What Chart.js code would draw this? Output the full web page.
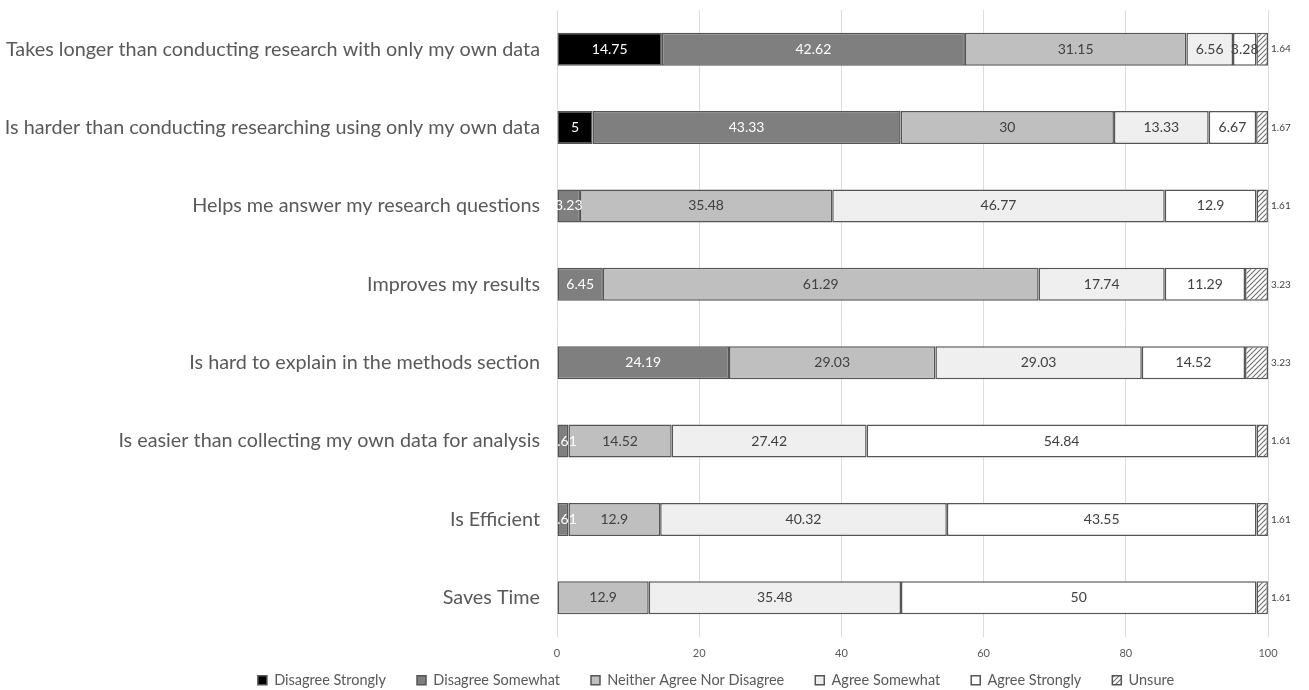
<!DOCTYPE html>
<html><head><meta charset="utf-8">
<script src="https://cdn.jsdelivr.net/npm/chart.js@4.4.1/dist/chart.umd.min.js"></script>
<style>html,body{margin:0;padding:0;background:#fff;}#wrap{width:1309px;height:690px;}</style>
</head><body><div id="wrap"><canvas id="c" width="1309" height="690"></canvas></div>
<script>
const categories = [
  "Takes longer than conducting research with only my own data",
  "Is harder than conducting researching using only my own data",
  "Helps me answer my research questions",
  "Improves my results",
  "Is hard to explain in the methods section",
  "Is easier than collecting my own data for analysis",
  "Is Efficient",
  "Saves Time"
];
const seriesNames = ["Disagree Strongly","Disagree Somewhat","Neither Agree Nor Disagree","Agree Somewhat","Agree Strongly","Unsure"];
const disagreeStrongly = [14.75, 5, 0, 0, 0, 0, 0, 0];
const disagreeSomewhat = [42.62, 43.33, 3.23, 6.45, 24.19, 1.61, 1.61, 0];
const neither = [31.15, 30, 35.48, 61.29, 29.03, 14.52, 12.9, 12.9];
const agreeSomewhat = [6.56, 13.33, 46.77, 17.74, 29.03, 27.42, 40.32, 35.48];
const agreeStrongly = [3.28, 6.67, 12.9, 11.29, 14.52, 54.84, 43.55, 50];
const unsure = [1.64, 1.67, 1.61, 3.23, 3.23, 1.61, 1.61, 1.61];
const xTicks = [0, 20, 40, 60, 80, 100];

function hatch(){
  const p = document.createElement('canvas'); p.width = 5; p.height = 5;
  const g = p.getContext('2d');
  g.fillStyle = '#ffffff'; g.fillRect(0,0,5,5);
  g.strokeStyle = '#707070'; g.lineWidth = 1.1;
  g.beginPath(); g.moveTo(0,5); g.lineTo(5,0); g.moveTo(-2.5,2.5); g.lineTo(2.5,-2.5); g.moveTo(2.5,7.5); g.lineTo(7.5,2.5); g.stroke();
  return g.createPattern(p,'repeat');
}
const FONT = "Lato, 'Open Sans', sans-serif";
const fills = ['#000000','#7f7f7f','#bfbfbf','#efefef','#ffffff', hatch()];
const labelColors = ['#ffffff','#ffffff','#404040','#404040','#404040','#404040'];
const values = [disagreeStrongly, disagreeSomewhat, neither, agreeSomewhat, agreeStrongly, unsure];

const labelPlugin = {
  id: 'segLabels',
  afterLayout(chart){
    const lg = chart.legend;
    if (lg) {
      const dx = 82, dy = -19;
      lg.left += dx; lg.right += dx; lg.top += dy; lg.bottom += dy;
    }
  },
  afterDatasetsDraw(chart){
    const ctx = chart.ctx;
    chart.data.datasets.forEach((ds, di) => {
      const meta = chart.getDatasetMeta(di);
      meta.data.forEach((el, i) => {
        const v = ds.data[i];
        if (!v) return;
        ctx.save();
        ctx.textBaseline = 'middle';
        if (di === 5) {
          ctx.font = "10px " + FONT;
          ctx.fillStyle = '#404040';
          ctx.textAlign = 'left';
          ctx.fillText(String(v), el.x + 3, el.y);
        } else {
          ctx.font = "14px " + FONT;
          ctx.fillStyle = labelColors[di];
          ctx.textAlign = 'center';
          ctx.fillText(String(v), (el.x + el.base) / 2, el.y);
        }
        ctx.restore();
      });
    });
  }
};

new Chart(document.getElementById('c'), {
  type: 'bar',
  data: {
    labels: categories,
    datasets: values.map((arr, i) => ({
      label: seriesNames[i],
      data: arr,
      backgroundColor: fills[i],
      borderColor: '#555555',
      borderWidth: 1.5,
      borderSkipped: false,
      barPercentage: 0.42,
      categoryPercentage: 1.0
    }))
  },
  options: {
    indexAxis: 'y',
    responsive: false,
    animation: false,
    devicePixelRatio: 1,
    layout: { padding: { top: 10, right: 41, left: 0, bottom: -26.5 } },
    scales: {
      x: {
        stacked: true, min: 0, max: 100,
        afterBuildTicks(s){ s.ticks = xTicks.map(v => ({value: v})); },
        afterFit(s){ s.height = 24; },
        grid: { color: '#dcdcdc', lineWidth: 1, drawTicks: false },
        border: { display: false },
        ticks: { color: '#595959', font: { size: 11, family: FONT }, padding: 10 }
      },
      y: {
        stacked: true,
        grid: { display: false, drawTicks: false },
        border: { display: false },
        afterFit(s){ s.width = 557; s.paddingTop = 0; s.paddingBottom = 0; },
        ticks: { color: '#595959', font: { size: 19.8, family: FONT }, padding: 17 }
      }
    },
    plugins: {
      legend: {
        position: 'bottom',
        labels: { boxWidth: 9, boxHeight: 9, color: '#595959', font: { size: 14.5, family: FONT }, padding: 31 }
      },
      tooltip: { enabled: false }
    }
  },
  plugins: [labelPlugin]
});
</script></body></html>
